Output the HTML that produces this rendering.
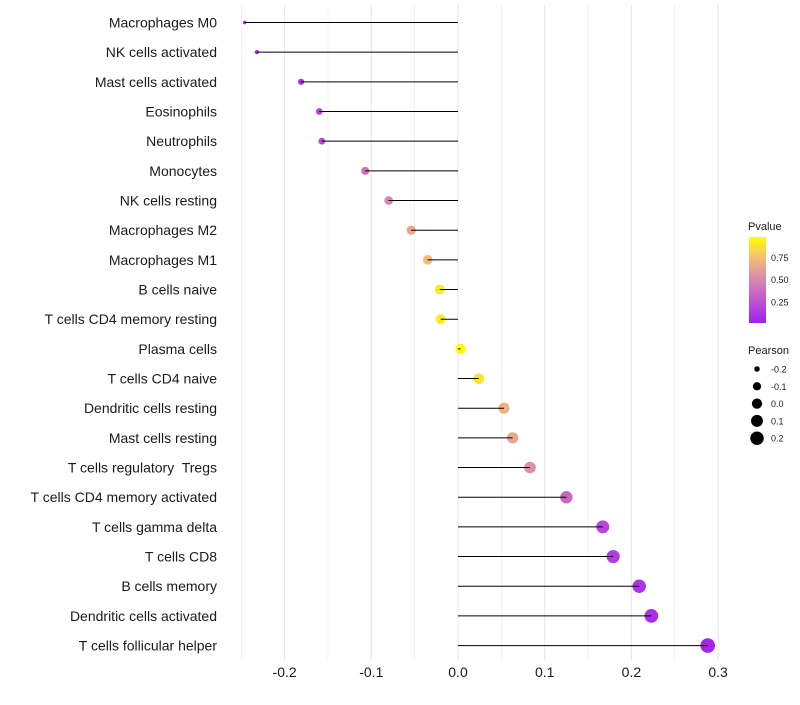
<!DOCTYPE html>
<html><head><meta charset="utf-8"><style>
body{margin:0;background:#fff;font-family:"Liberation Sans",sans-serif}
svg text{font-family:"Liberation Sans",sans-serif;white-space:pre}
</style></head><body>
<svg id="c" width="800" height="700" xmlns="http://www.w3.org/2000/svg">
<defs><linearGradient id="pg" x1="0" y1="1" x2="0" y2="0">
<stop offset="0" stop-color="#A020F0"/><stop offset="0.5" stop-color="#D886B0"/><stop offset="0.75" stop-color="#F2BC78"/><stop offset="1" stop-color="#FFFF00"/></linearGradient></defs>
</svg>
<script>
const categories=["Macrophages M0","NK cells activated","Mast cells activated","Eosinophils","Neutrophils","Monocytes","NK cells resting","Macrophages M2","Macrophages M1","B cells naive","T cells CD4 memory resting","Plasma cells","T cells CD4 naive","Dendritic cells resting","Mast cells resting","T cells regulatory  Tregs","T cells CD4 memory activated","T cells gamma delta","T cells CD8","B cells memory","Dendritic cells activated","T cells follicular helper"];
const pearson=[-0.246,-0.232,-0.181,-0.160,-0.157,-0.107,-0.080,-0.054,-0.035,-0.021,-0.020,0.003,0.024,0.053,0.063,0.083,0.125,0.167,0.179,0.209,0.223,0.288];
const pvalue=[0.02,0.05,0.1,0.2,0.2,0.4,0.5,0.65,0.75,0.92,0.92,0.99,0.9,0.7,0.65,0.55,0.35,0.2,0.15,0.1,0.08,0.02];
const xTicks=[-0.2,-0.1,0.0,0.1,0.2,0.3];
const xTickLabels=["-0.2","-0.1","0.0","0.1","0.2","0.3"];
const legendSizes=[-0.2,-0.1,0.0,0.1,0.2];
const legendSizeLabels=["-0.2","-0.1","0.0","0.1","0.2"];
const legendP=[0.25,0.5,0.75];
const legendPLabels=["0.25","0.50","0.75"];

const svg=document.getElementById('c');const NS="http://www.w3.org/2000/svg";
function mk(t,a,p){const e=document.createElementNS(NS,t);for(const k in a)e.setAttribute(k,a[k]);(p||svg).appendChild(e);return e;}
const xS=v=>458+v*867;
const yS=i=>22.5+i*29.67;
const rS=v=>Math.sqrt(Math.max(1,26.3+93.7*v));
function lerp(a,b,t){return a.map((x,i)=>Math.round(x+(b[i]-x)*t));}
const stops=[[0,[160,32,240]],[0.5,[216,134,176]],[0.75,[242,188,120]],[1,[255,255,0]]];
function col(p){for(let i=0;i<stops.length-1;i++){if(p<=stops[i+1][0]){const t=(p-stops[i][0])/(stops[i+1][0]-stops[i][0]);const c=lerp(stops[i][1],stops[i+1][1],t);return `rgb(${c})`;}}return "rgb(255,255,0)";}
for(let v=-0.25;v<=0.301;v+=0.05){const g=mk('line',{x1:xS(v),x2:xS(v),y1:5,y2:660,stroke:'#e8e8e8','stroke-width':Math.abs(Math.round(v*20))%2===0?1.1:0.6});

}
xTicks.forEach((v,i)=>{const t=mk('text',{x:xS(v),y:677,'text-anchor':'middle','font-size':14,fill:'#1a1a1a'});t.textContent=xTickLabels[i];

});
categories.forEach((c,i)=>{
const y=yS(i);
const l=mk('text',{x:217,y:y+5,'text-anchor':'end','font-size':14,fill:'#1a1a1a'});l.textContent=c;


const d=mk('circle',{cx:xS(pearson[i]),cy:y,r:rS(pearson[i]),fill:col(pvalue[i])});


const s=mk('line',{x1:xS(0),x2:xS(pearson[i]),y1:y,y2:y,stroke:'#000','stroke-width':1});


});
const lt=mk('text',{x:748,y:230,'font-size':11,fill:'#1a1a1a'});lt.textContent="Pvalue";


const bar=mk('rect',{x:749,y:237,width:17,height:86,fill:'url(#pg)'});


const pY=p=>324-p*89;
legendP.forEach((p,i)=>{const t=mk('text',{x:771,y:pY(p)+3.5,'font-size':9,fill:'#1a1a1a'});t.textContent=legendPLabels[i];

});
const st=mk('text',{x:748,y:354,'font-size':11,fill:'#1a1a1a'});st.textContent="Pearson";


legendSizes.forEach((v,i)=>{const y=369+i*17.3;
const c=mk('circle',{cx:757,cy:y,r:rS(v),fill:'#000'});


const t=mk('text',{x:771,y:y+3.5,'font-size':9,fill:'#1a1a1a'});t.textContent=legendSizeLabels[i];

});
</script>
</body></html>
